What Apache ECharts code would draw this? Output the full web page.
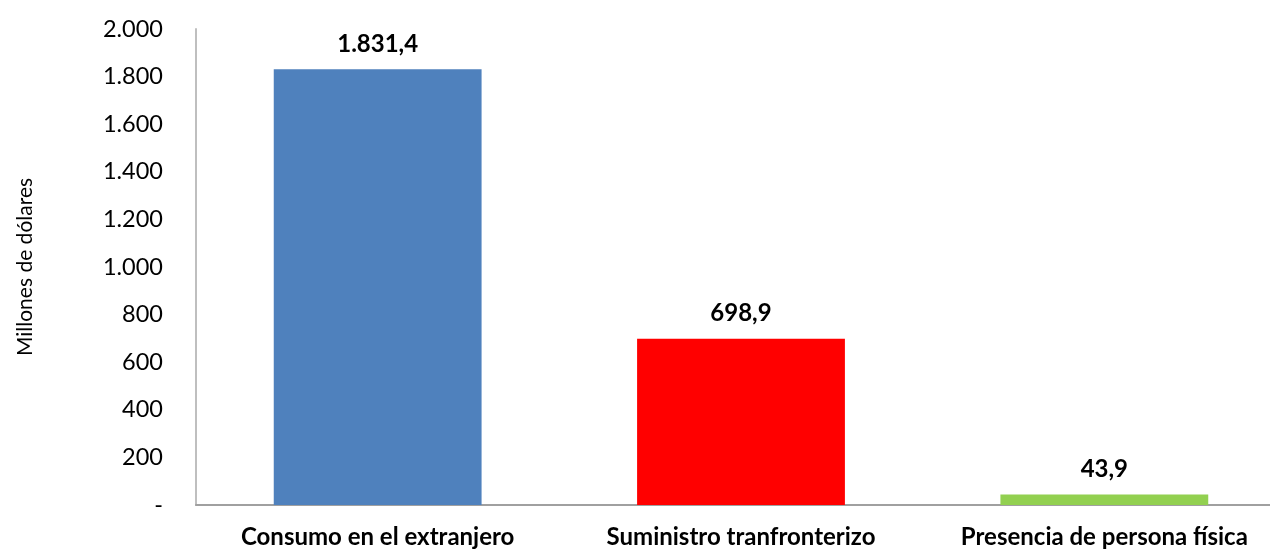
<!DOCTYPE html>
<html><head><meta charset="utf-8">
<script src="https://cdn.jsdelivr.net/npm/echarts@6/dist/echarts.min.js"></script>
<style>html,body{margin:0;padding:0;background:#fff}#c{width:1270px;height:554px}</style>
</head><body><div id="c"></div>
<script>
const categories = ["Consumo en el extranjero", "Suministro tranfronterizo", "Presencia de persona física"];
const values = [1831.4, 698.9, 43.9];
const colors = ["#4F81BD", "#FF0000", "#92D050"];
const yTicks = {min: 0, max: 2000, interval: 200};
const yName = "Millones de dólares";

function fmtThousands(v) {
  return String(Math.round(v)).replace(/\B(?=(\d{3})+(?!\d))/g, ".");
}
function fmtValue(v) {
  const parts = v.toFixed(1).split(".");
  return parts[0].replace(/\B(?=(\d{3})+(?!\d))/g, ".") + "," + parts[1];
}
const font = "Lato, 'Open Sans', sans-serif";
const chart = echarts.init(document.getElementById('c'));
chart.setOption({
  animation: false,
  grid: {left: 196, top: 29, width: 1090, height: 476, containLabel: false, outerBoundsMode: 'none'},
  xAxis: {
    type: 'category', data: categories,
    axisLine: {lineStyle: {color: '#A0A0A0', width: 2}},
    axisTick: {show: false},
    axisLabel: {interval: 0, hideOverlap: false, color: '#000', fontFamily: font, fontWeight: 'bold', fontSize: 24, margin: 20}
  },
  yAxis: {
    type: 'value', min: yTicks.min, max: yTicks.max, interval: yTicks.interval,
    name: yName, nameLocation: 'middle', nameGap: 160, nameRotate: 90,
    nameTextStyle: {color: '#000', fontFamily: font, fontSize: 21},
    axisLine: {show: true, lineStyle: {color: '#BFBFBF', width: 2}},
    axisTick: {show: false},
    splitLine: {show: false},
    axisLabel: {color: '#000', fontFamily: font, fontSize: 23.5, margin: 33,
      formatter: v => v === 0 ? '-' : fmtThousands(v)}
  },
  series: [{
    type: 'bar', barWidth: '57.2%',
    data: values.map((v, i) => ({value: v, itemStyle: {color: colors[i]}})),
    label: {show: true, position: 'top', distance: 13, color: '#000', fontFamily: font,
      fontWeight: 'bold', fontSize: 24, formatter: p => fmtValue(p.value)}
  }]
});
</script></body></html>
